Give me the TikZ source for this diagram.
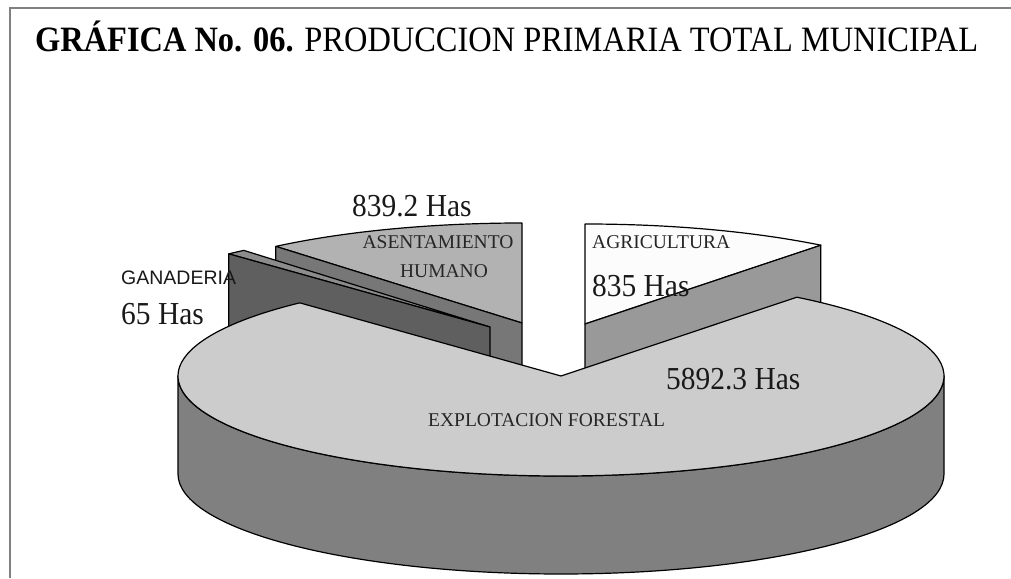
\documentclass[tikz,border=0pt]{standalone}
\usepackage{graphicx}
\usepackage{fontspec}
\setmainfont{Liberation Serif}
\newfontfamily\arialf{Liberation Sans}
\usetikzlibrary{calc}
\definecolor{maintop}{HTML}{CCCCCC}
\definecolor{mainside}{HTML}{808080}
\definecolor{agritop}{HTML}{FCFCFC}
\definecolor{agriwall}{HTML}{999999}
\definecolor{asenttop}{HTML}{B2B2B2}
\definecolor{asentwall}{HTML}{777777}
\definecolor{gantop}{HTML}{8C8C8C}
\definecolor{ganwall}{HTML}{5F5F5F}
\newcommand{\bigtxt}[1]{\scalebox{0.92}[1]{#1}}
\begin{document}
\begin{tikzpicture}[x=1pt,y=1pt,
  edge/.style={draw=black,line width=1.2pt,line join=round},
  big/.style={font=\fontsize{32}{32}\selectfont, inner sep=0pt, anchor=base west, text=black!90},
  small/.style={font=\fontsize{19.5}{20}\selectfont, inner sep=0pt, text=black!85},
  ell/.style={x radius=383, y radius=100}
]
\useasboundingbox (0,0) rectangle (1011,578);
\fill[white] (0,0) rectangle (1011,578);
\draw[gray, line width=1.5pt] (10,0) -- (10,570) -- (1011,570);

\node[anchor=base west, inner sep=0pt] (title) at (35,526)
  {\resizebox{943pt}{1.08\height}{\fontsize{33}{33}\selectfont\textbf{GRÁFICA No. 06.} PRODUCCION PRIMARIA TOTAL MUNICIPAL}};

% centres
\coordinate (C) at (561,202);
\coordinate (A) at (585,254);
\coordinate (S) at (522,255);
\coordinate (G) at (490,251);

% asentamiento humano
\draw[edge, fill=asenttop] (S) -- ($(S)+(90:383 and 100)$) arc[start angle=90, end angle=130, ell] -- cycle;
\draw[edge, fill=asentwall] (S) -- ($(S)+(130:383 and 100)$) -- ++(0,-98) -- ($(S)+(0,-98)$) -- cycle;

% ganaderia
\draw[edge, fill=gantop] (G) -- ($(G)+(130:383 and 100)$) arc[start angle=130, end angle=133, ell] -- cycle;
\draw[edge, fill=ganwall] (G) -- ($(G)+(133:383 and 100)$) -- ++(0,-98) -- ($(G)+(0,-98)$) -- cycle;

% agricultura
\draw[edge, fill=agritop] (A) -- ($(A)+(52:383 and 100)$) arc[start angle=52, end angle=90, ell] -- cycle;
\draw[edge, fill=agriwall] (A) -- ($(A)+(52:383 and 100)$) -- ++(0,-98) -- ($(A)+(0,-98)$) -- cycle;

% explotacion forestal
\draw[edge, fill=mainside] ($(C)+(-383,0)$) -- ++(0,-98) arc[start angle=180, end angle=360, ell] -- ++(0,98) arc[start angle=0, end angle=-180, ell] -- cycle;
\draw[edge, fill=maintop] (C) -- ($(C)+(52:383 and 100)$) arc[start angle=52, end angle=-227, ell] -- cycle;

% labels
\node[big] (l8392) at (352,361) {\bigtxt{839.2 Has}};
\node[small, anchor=base] (las1) at (438,329) {ASENTAMIENTO};
\node[small, anchor=base] (las2) at (444,300) {HUMANO};
\node[inner sep=0pt, anchor=base west, font=\arialf\fontsize{19.5}{20}\selectfont, text=black!90] (lgan) at (121,293) {GANADERIA};
\node[big] (l65) at (121,253) {\bigtxt{65 Has}};
\node[small, anchor=base west] (lagri) at (592,329) {AGRICULTURA};
\node[big] (l835) at (592,281) {\bigtxt{835 Has}};
\node[big] (l5892) at (666,188) {\bigtxt{5892.3 Has}};
\node[small, anchor=base west] (lexp) at (428,151) {EXPLOTACION FORESTAL};
\end{tikzpicture}
\end{document}
